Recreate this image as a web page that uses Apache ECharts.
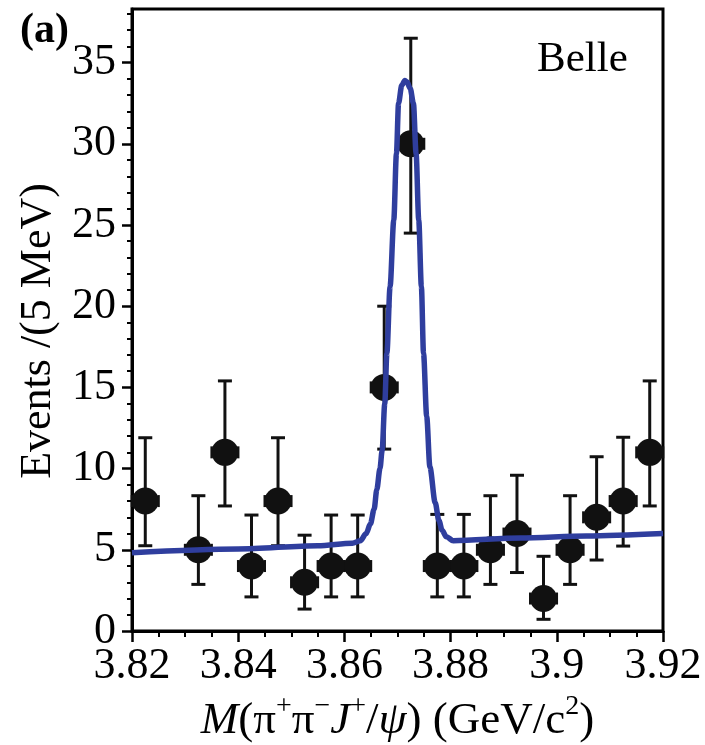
<!DOCTYPE html>
<html><head><meta charset="utf-8">
<script src="https://cdn.jsdelivr.net/npm/echarts@6/dist/echarts.min.js"></script>
<style>html,body{margin:0;padding:0;background:#fff}#c{width:705px;height:745px}</style>
</head><body><div id="c"></div>
<script>
// ---- data ----
const massBins = [3.8225,3.8325,3.8375,3.8425,3.8475,3.8525,3.8575,3.8625,3.8675,3.8725,3.8775,3.8825,3.8875,3.8925,3.8975,3.9025,3.9075,3.9125,3.9175];
const events = [8,5,11,4,8,3,4,4,15,30,4,4,5,6,2,5,7,8,11];
const errLowerBound = [5.25,2.87,7.7,2.1,5.25,1.35,2.1,2.1,11.2,24.5,2.1,2.1,2.87,3.6,0.72,2.87,4.37,5.23,7.7];
const errUpperBound = [11.9,8.33,15.4,7.14,11.9,5.9,7.14,7.14,20.0,36.5,7.18,7.18,8.33,9.59,4.6,8.33,10.73,11.93,15.4];
const binHalfWidth = 0.0025;
const fitMass = [3.820,3.840,3.855,3.8615,3.8630,3.8641,3.8649,3.8656,3.8661,3.8667,3.8671,3.8676,3.8680,3.8686,3.8693,3.8698,3.8702,3.8708,3.8714,3.8718,3.8724,3.8730,3.8735,3.8740,3.8745,3.8749,3.8755,3.8761,3.8771,3.8778,3.8784,3.8792,3.8805,3.8931,3.9056,3.9200];
const fitEvents = [4.82,5.05,5.25,5.4,5.55,6.0,6.6,7.5,8.7,10.0,11.1,14.0,17.1,21.2,25.3,29.4,32.5,33.6,33.9,33.8,33.4,32.5,29.4,25.3,21.2,17.1,13.2,10.1,7.9,6.8,6.2,5.8,5.56,5.73,5.85,6.0];
const yMajorTicks = [0,5,10,15,20,25,30,35];
const yMinorTicks = [1,2,3,4,6,7,8,9,11,12,13,14,16,17,18,19,21,22,23,24,26,27,28,29,31,32,33,34,36,37,38];
const xTickStep = 0.02;
const yTitle = 'Events /(5 MeV)';
const panelLabel = '(a)';
const expLabel = 'Belle';

const FONT = "'Liberation Serif','Times New Roman',serif";
const chart = echarts.init(document.getElementById('c'), null, {renderer:'canvas'});

function renderErr(params, api){
  const x = api.value(0), lo = api.value(1), hi = api.value(2), y = api.value(3);
  const pLo = api.coord([x, lo]), pHi = api.coord([x, hi]);
  const pL = api.coord([x - binHalfWidth, y]), pR = api.coord([x + binHalfWidth, y]);
  const cw = 7, ch = 6;
  const st = {stroke:'#111', lineWidth:3, fill:null};
  const st2 = {stroke:'#111', lineWidth:2.5, fill:null};
  return {type:'group', children:[
    {type:'line', shape:{x1:pLo[0],y1:pLo[1],x2:pHi[0],y2:pHi[1]}, style:st},
    {type:'line', shape:{x1:pLo[0]-cw,y1:pLo[1],x2:pLo[0]+cw,y2:pLo[1]}, style:st},
    {type:'line', shape:{x1:pHi[0]-cw,y1:pHi[1],x2:pHi[0]+cw,y2:pHi[1]}, style:st},
    {type:'line', shape:{x1:pL[0],y1:pL[1],x2:pR[0],y2:pR[1]}, style:st2},
    {type:'line', shape:{x1:pL[0],y1:pL[1]-ch,x2:pL[0],y2:pL[1]+ch}, style:st2},
    {type:'line', shape:{x1:pR[0],y1:pR[1]-ch,x2:pR[0],y2:pR[1]+ch}, style:st2}
  ]};
}

const option = {
  backgroundColor:'#fff',
  animation:false,
  grid:{left:132, right:42, top:9, bottom:114, outerBoundsMode:'none', containLabel:false,
    show:true, borderColor:'#000', borderWidth:3, backgroundColor:'transparent'},
  xAxis:{
    type:'value', min:3.82, max:3.92, interval:xTickStep,
    axisLine:{show:true, onZero:false, lineStyle:{color:'#000', width:3}},
    axisTick:{show:true, inside:false, length:11, lineStyle:{color:'#000', width:2.5}},
    minorTick:{show:true, splitNumber:4, length:6, lineStyle:{color:'#000', width:2}},
    splitLine:{show:false}, minorSplitLine:{show:false},
    axisLabel:{fontFamily:FONT, fontSize:44, color:'#000', margin:13},
    name:'{i|M}{n|(π}{s|+}{n|π}{s|−}{i|J}{s|+}{n|/}{i|ψ}{n|) (GeV/c}{s|2}{n|)}',
    nameLocation:'middle', nameGap:53,
    nameTextStyle:{fontFamily:FONT, fontSize:45, color:'#000',
      rich:{
        n:{fontFamily:FONT, fontSize:45, color:'#000'},
        i:{fontFamily:FONT, fontSize:45, color:'#000', fontStyle:'italic'},
        s:{fontFamily:FONT, fontSize:28, color:'#000', padding:[0,0,28,0]}
      }}
  },
  yAxis:[{
    type:'value', min:0, max:38.3, position:'left',
    axisLine:{show:true, onZero:false, lineStyle:{color:'#000', width:3}},
    axisTick:{show:true, inside:false, length:10, customValues:yMajorTicks, lineStyle:{color:'#000', width:2.5}},
    axisLabel:{fontFamily:FONT, fontSize:44, color:'#000', margin:16, customValues:yMajorTicks},
    splitLine:{show:false},
    name:yTitle, nameLocation:'middle', nameGap:72,
    nameTextStyle:{fontFamily:FONT, fontSize:44, color:'#000', padding:[0,0,0,-22]}
  },{
    type:'value', min:0, max:38.3, position:'left',
    axisLine:{show:false},
    axisTick:{show:true, inside:false, length:5, customValues:yMinorTicks, lineStyle:{color:'#000', width:2}},
    axisLabel:{show:false},
    splitLine:{show:false}
  }],
  graphic:[
    {type:'text', left:20, top:10, style:{text:panelLabel, font:"bold 42px 'Liberation Serif', serif", fill:'#000'}},
    {type:'text', left:537, top:38, style:{text:expLabel, font:"43px 'Liberation Serif', serif", fill:'#000'}}
  ],
  series:[
    {type:'custom', name:'errors', xAxisIndex:0, yAxisIndex:0, z:3,
      renderItem:renderErr, encode:{x:0, y:[1,2]},
      data:massBins.map((m,i)=>[m, errLowerBound[i], errUpperBound[i], events[i]])},
    {type:'scatter', name:'data', xAxisIndex:0, yAxisIndex:0, z:4,
      symbol:'circle', symbolSize:27, itemStyle:{color:'#111', opacity:1},
      data:massBins.map((m,i)=>[m, events[i]])},
    {type:'line', name:'fit', xAxisIndex:0, yAxisIndex:0, z:5,
      showSymbol:false, smooth:0.3, smoothMonotone:'x',
      lineStyle:{color:'#2f3e9e', width:5.5}, clip:true,
      data:fitMass.map((m,i)=>[m, fitEvents[i]])}
  ]
};
chart.setOption(option);
</script>
</body></html>
